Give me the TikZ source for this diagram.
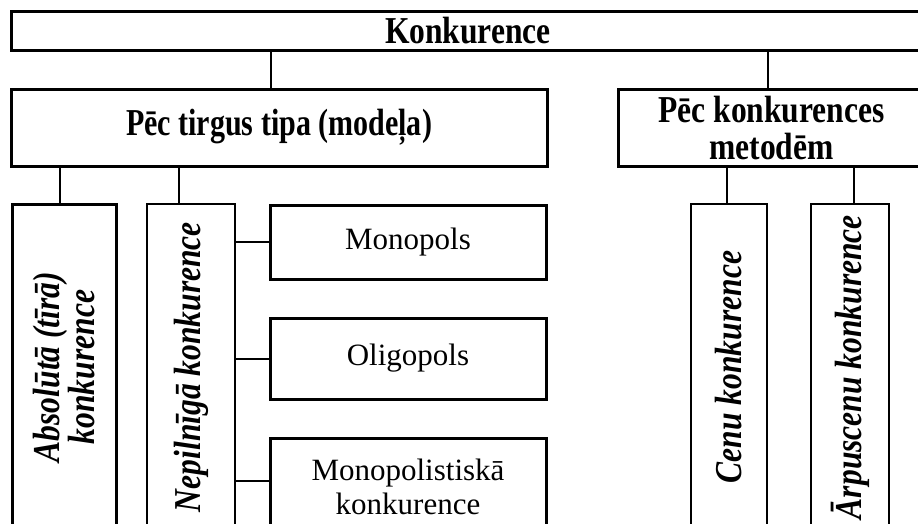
\documentclass[tikz,border=0pt]{standalone}
\usepackage{fontspec}
\setmainfont{Liberation Serif}
\newfontfamily\narrowserif[FakeStretch=0.83]{Liberation Serif}
\newfontfamily\narrowerserif[FakeStretch=0.79]{Liberation Serif}

\begin{document}
\begin{tikzpicture}[x=1pt,y=-1pt,line width=2pt,
  bigbox/.style={draw,line width=3pt,inner sep=0pt,align=center,font=\narrowserif\fontsize{38}{37}\selectfont\bfseries},
  subbox/.style={draw,line width=3pt,inner sep=0pt,align=center,minimum width=276pt,font=\fontsize{31}{34}\selectfont},
  vbox/.style={draw,rotate=90,inner sep=0pt,align=center,minimum width=326pt,font=\narrowserif\fontsize{38}{34}\selectfont\bfseries\itshape}]

\useasboundingbox (0,0) rectangle (918,523);
\clip (0,0) rectangle (918,523);


% 1
\node[bigbox,minimum width=914pt,minimum height=39pt] (Konkurence) at (468,30.5) {Konkurence};


% 2
\node[bigbox,minimum width=536pt,minimum height=77pt,font=\narrowerserif\fontsize{38}{37}\selectfont\bfseries] (PecTirgus) at (279,127.5) {Pēc tirgus tipa (modeļa)};
\node[bigbox,minimum width=307pt,minimum height=77pt] (PecMetodem) at (771.5,127.5) {Pēc konkurences\\metodēm};


% 3 (rotated: east is the top side)
\node[vbox,line width=3pt,minimum height=104pt] (Absoluta) at (64,367) {Absolūtā (tīrā)\\konkurence};
\node[vbox,minimum height=88pt] (Nepilniga) at (191,367) {Nepilnīgā konkurence};

\node[subbox,minimum height=74pt] (Monopols) at (408,242) {Monopols};
\node[subbox,minimum height=81pt] (Oligopols) at (408,358.5) {Oligopols};
\node[subbox,minimum height=98pt] (MonopolKonk) at (408,487) {Monopolistiskā\\konkurence};

\node[vbox,minimum height=76pt] (Cenu) at (729,367) {Cenu konkurence};
\node[vbox,minimum height=78pt] (Arpuscenu) at (850,367) {Ārpuscenu konkurence};


% connectors
\draw ([xshift=-8pt]PecTirgus.north) -- ([xshift=-8pt]PecTirgus.north |- Konkurence.south);
\draw ([xshift=-4pt]PecMetodem.north) -- ([xshift=-4pt]PecMetodem.north |- Konkurence.south);

\draw ([xshift=-4pt]Absoluta.east) -- ([xshift=-4pt]Absoluta.east |- PecTirgus.south);
\draw ([xshift=-12pt]Nepilniga.east) -- ([xshift=-12pt]Nepilniga.east |- PecTirgus.south);
\draw ([xshift=-2pt]Cenu.east) -- ([xshift=-2pt]Cenu.east |- PecMetodem.south);
\draw ([xshift=4pt]Arpuscenu.east) -- ([xshift=4pt]Arpuscenu.east |- PecMetodem.south);

\draw (Monopols.west) -- (Monopols.west -| Nepilniga.south);
\draw (Oligopols.west) -- (Oligopols.west -| Nepilniga.south);
\draw ([yshift=6pt]MonopolKonk.west) -- ([yshift=6pt]MonopolKonk.west -| Nepilniga.south);

\end{tikzpicture}
\end{document}
